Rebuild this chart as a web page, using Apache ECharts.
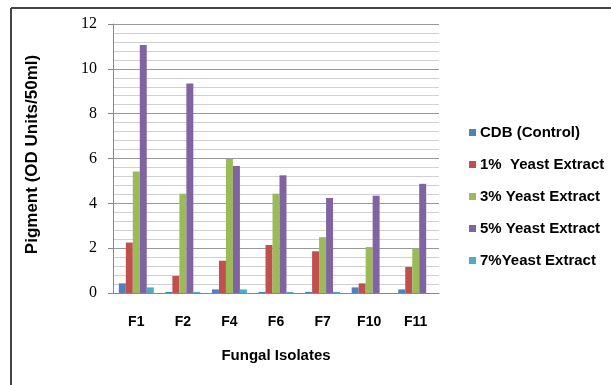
<!DOCTYPE html>
<html><head><meta charset="utf-8">
<script src="https://cdn.jsdelivr.net/npm/echarts@6/dist/echarts.min.js"></script>
<style>html,body{margin:0;padding:0;background:#fff}#c{width:611px;height:385px}</style>
</head><body><div id="c"></div>
<script>
const categories = ['F1','F2','F4','F6','F7','F10','F11'];
const seriesNames = ['CDB (Control)','1%  Yeast Extract','3% Yeast Extract','5% Yeast Extract','7%Yeast Extract'];
const cdb     = [0.43, 0.05, 0.16, 0.05, 0.05, 0.25, 0.16];
const ye1     = [2.25, 0.76, 1.44, 2.14, 1.86, 0.43, 1.16];
const ye3     = [5.42, 4.43, 5.98, 4.43, 2.49, 2.05, 1.98];
const ye5     = [11.06, 9.35, 5.67, 5.25, 4.24, 4.34, 4.87];
const ye7     = [0.25, 0.05, 0.16, 0.05, 0.05, 0, 0];
const yTicks  = [0, 2, 4, 6, 8, 10, 12];
const colors  = ['#4F81BD','#C0504D','#9BBB59','#8064A2','#4BACC6'];

const chart = echarts.init(document.getElementById('c'));
const allData = [cdb, ye1, ye3, ye5, ye7];
chart.setOption({
  animation: false,
  backgroundColor: '#fff',
  grid: {left: 113, right: 172, top: 24, bottom: 92},
  legend: {
    orient: 'vertical', left: 464, top: 120, itemWidth: 7, itemHeight: 7, itemGap: 17,
    icon: 'rect',
    textStyle: {fontFamily: 'Liberation Sans', fontSize: 15, fontWeight: 'bold', color: '#000', padding: [0,0,0,-1]},
    data: seriesNames
  },
  xAxis: {
    type: 'category', data: categories,
    name: 'Fungal Isolates', nameLocation: 'middle', nameGap: 55,
    nameTextStyle: {fontFamily: 'Liberation Sans', fontSize: 15, fontWeight: 'bold', color: '#000'},
    axisLine: {lineStyle: {color: '#888'}},
    axisTick: {show: false},
    axisLabel: {margin: 22, fontFamily: 'Liberation Sans', fontSize: 14, fontWeight: 'bold', color: '#000'}
  },
  yAxis: {
    type: 'value', min: yTicks[0], max: yTicks[yTicks.length-1], interval: 2,
    name: 'Pigment (OD Units/50ml)', nameLocation: 'middle', nameGap: 72,
    nameTextStyle: {fontFamily: 'Liberation Sans', fontSize: 17, fontWeight: 'bold', color: '#000', padding: [0,0,0,8]},
    axisLine: {show: true, lineStyle: {color: '#888'}},
    axisTick: {show: true, length: 5, lineStyle: {color: '#888'}},
    axisLabel: {margin: 16, fontFamily: 'Liberation Serif', fontSize: 16, color: '#000'},
    splitLine: {lineStyle: {color: '#999'}},
    minorTick: {show: false, splitNumber: 5},
    minorSplitLine: {show: true, lineStyle: {color: '#d0d0d0'}}
  },
  series: seriesNames.map((n, i) => ({
    name: n, type: 'bar', data: allData[i], barGap: '0%', barCategoryGap: '25%',
    itemStyle: {color: colors[i]}
  })),
  graphic: [
    {type: 'line', shape: {x1: 11, y1: 8, x2: 620, y2: 8}, style: {stroke: '#444', lineWidth: 2}},
    {type: 'line', shape: {x1: 11, y1: 8, x2: 11, y2: 390}, style: {stroke: '#444', lineWidth: 2}}
  ]
});
</script></body></html>
